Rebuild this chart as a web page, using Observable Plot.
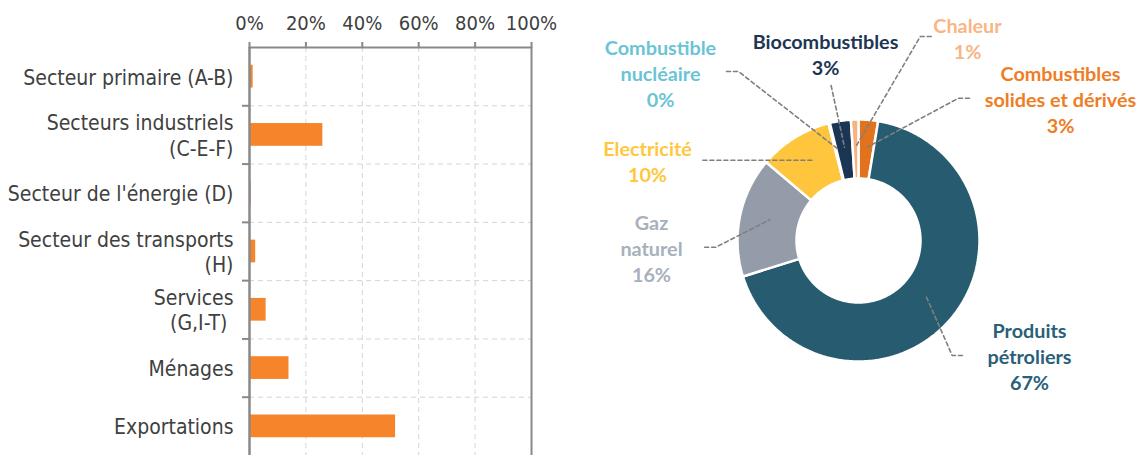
<!DOCTYPE html>
<html><head><meta charset="utf-8">
<script src="https://cdn.jsdelivr.net/npm/d3@7"></script>
<script src="https://cdn.jsdelivr.net/npm/@observablehq/plot@0.6"></script>
<style>
body{margin:0;background:#fff;}
#wrap{position:relative;width:1142px;height:455px;overflow:hidden;background:#fff;}
#bar{position:absolute;left:0;top:0}
#donut{position:absolute;left:570px;top:0}
</style></head><body><div id="wrap"><div id="bar"></div><div id="donut"></div></div>
<script>
// ---- Data: left bar chart ----
const sectors = ["Secteur primaire (A-B)", "Secteurs industriels\n(C-E-F)", "Secteur de l'énergie (D)", "Secteur des transports\n(H)", "Services\n(G,I-T)\u00a0", "Ménages", "Exportations"];
const sectorShares = [1.3, 26.0, 0.6, 2.2, 5.9, 14.0, 51.8];
const xTicks = [0, 20, 40, 60, 80, 100];

// ---- Data: right donut ----
const products = ["Combustibles solides et dérivés", "Produits pétroliers", "Gaz naturel", "Electricité", "Combustible nucléaire", "Biocombustibles", "Chaleur"];
const productShares = [2.6, 67.6, 16.0, 9.8, 0.2, 2.8, 1.0];
const productLabels = ["Combustibles\nsolides et dérivés", "Produits\npétroliers", "Gaz\nnaturel", "Electricité", "Combustible\nnucléaire", "Biocombustibles", "Chaleur"];
const productPct = ["3%", "67%", "16%", "10%", "0%", "3%", "1%"];

// ---- Styles / layout ----
const sliceColors = ["#E2721C", "#275B6F", "#939CA8", "#FEC53D", "#6BC4D5", "#1B3654", "#F7B27F"];
const labelColors = ["#EE7D24", "#2A6079", "#A7B1BE", "#FFC73D", "#6BC4D5", "#1C3654", "#F9B584"];
// label block centres, relative to donut centre (px)
const labelPos = [[202, -142], [171, 115.5], [-207, 7], [-211, -80], [-198, -168], [-33, -187], [109, -203]];
// leader line polylines relative to donut centre (px)
const leaderPos = [
  [[111, -142.3], [100, -142.3], [8.7, -93.3]],
  [[68, 56.7], [93.7, 115], [105.3, 115]],
  [[-153.8, 6.7], [-142.8, 6.7], [-88.7, -20.7]],
  [[-155.6, -80.3], [-45, -80.3]],
  [[-132, -169], [-120, -169], [-20, -91]],
  [[-27.4, -155], [-14, -93.3]],
  [[72.7, -204], [61.8, -204], [-3, -93.3]]
];

// ---- Bar chart ----
const barData = sectors.map((s, i) => ({i, s, v: sectorShares[i]}));
const seps = d3.range(sectors.length + 1).map(i => i - 0.5);
const barHalf = 0.195;
const axisColor = "#898989";
const gridColor = "#d4d4d4";
const leftFont = "'DejaVu Sans Condensed', 'DejaVu Sans', sans-serif";
const barPlot = Plot.plot({
  width: 570, height: 455,
  marginLeft: 249, marginRight: 39, marginTop: 47, marginBottom: 0,
  style: {fontFamily: leftFont, fontSize: "21px", color: "#404040", background: "white", overflow: "visible"},
  x: {domain: [0, 100]},
  y: {domain: [-0.5, sectors.length - 0.5], reverse: true},
  marks: [
    Plot.gridX({ticks: xTicks.slice(1, -1), stroke: gridColor, strokeOpacity: 1, strokeDasharray: "5,4", strokeWidth: 1}),
    Plot.gridY({ticks: seps.slice(1), stroke: gridColor, strokeOpacity: 1, strokeDasharray: "5,4", strokeWidth: 1}),
    Plot.rectX(barData, {x1: 0, x2: "v", y1: d => d.i - barHalf, y2: d => d.i + barHalf, fill: "#F5842A"}),
    Plot.ruleY([seps[0]], {stroke: axisColor, strokeWidth: 2}),
    Plot.ruleX([0], {stroke: axisColor, strokeWidth: 2.5}),
    Plot.ruleX([100], {stroke: axisColor, strokeWidth: 2}),
    Plot.axisX({anchor: "top", ticks: xTicks, tickFormat: d => d + "%", tickSize: 6, tickPadding: 12, stroke: axisColor, strokeWidth: 2, fill: "#404040", fontSize: 20, label: null}),
    Plot.axisY({anchor: "left", ticks: seps.slice(1, -1), tickFormat: () => "", tickSize: 7, stroke: axisColor, strokeWidth: 2, label: null}),
    Plot.axisY({anchor: "left", ticks: sectors.map((_, i) => i), tickFormat: i => sectors[i], tickSize: 0, tickPadding: 16, lineHeight: 1.2, fill: "#404040", fontSize: 21, label: null})
  ]
});
document.getElementById("bar").append(barPlot);

// ---- Donut ----
const R = 121, r = 62;
const arcs = d3.pie().sort(null).value(d => d)(productShares);
const slicePts = [];
arcs.forEach((a, k) => {
  const n = Math.max(2, Math.ceil((a.endAngle - a.startAngle) / 0.01));
  const pts = [];
  for (let j = 0; j <= n; j++) { const t = a.startAngle + (a.endAngle - a.startAngle) * j / n; pts.push([R * Math.sin(t), -R * Math.cos(t)]); }
  for (let j = n; j >= 0; j--) { const t = a.startAngle + (a.endAngle - a.startAngle) * j / n; pts.push([r * Math.sin(t), -r * Math.cos(t)]); }
  pts.push(pts[0]);
  pts.forEach(p => slicePts.push({k, name: products[k], x: p[0], y: p[1]}));
});
const leaderPts = leaderPos.flatMap((path, k) => path.map(p => ({k, x: p[0], y: p[1]})));

const labelMarks = products.map((name, k) => Plot.text([name], {
  x: labelPos[k][0], y: labelPos[k][1],
  text: () => productLabels[k] + "\n" + productPct[k],
  fill: labelColors[k], fontWeight: "bold", fontSize: 19.8, fontFamily: "Lato", lineHeight: 1.31,
  textAnchor: "middle"
}));

const donutPlot = Plot.plot({
  width: 572, height: 455,
  margin: 0,
  style: {fontFamily: "Lato", background: "white", overflow: "visible"},
  x: {domain: [-288, 284], range: [0, 572], axis: null},
  y: {domain: [-240, 215], range: [0, 455], axis: null},
  color: {domain: products, range: sliceColors},
  marks: [
    Plot.line(slicePts, {x: "x", y: "y", z: "k", fill: "name", stroke: "white", strokeWidth: 2.5, curve: "linear", strokeLinejoin: "miter"}),
    Plot.line(leaderPts, {x: "x", y: "y", z: "k", stroke: "#7f7f7f", strokeWidth: 1.6, strokeDasharray: "4,3"}),
    ...labelMarks
  ]
});
document.getElementById("donut").append(donutPlot);
</script></body></html>
